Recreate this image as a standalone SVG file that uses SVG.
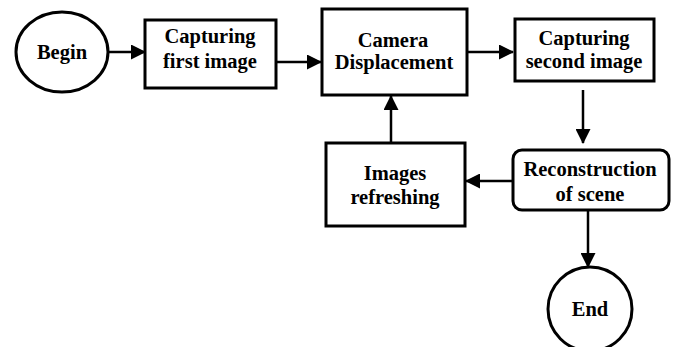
<svg xmlns="http://www.w3.org/2000/svg" width="675" height="347" viewBox="0 0 675 347">
<style>
.box{fill:#fff;stroke:#000;stroke-width:3}
.t{font-family:"Liberation Serif","Times New Roman",serif;font-weight:bold;font-size:20.5px;text-anchor:middle;fill:#000}
.c{stroke:#000;stroke-width:2.5;fill:none}
</style>
<defs>
<marker id="ah" markerUnits="userSpaceOnUse" markerWidth="15" markerHeight="15" viewBox="0 0 15 15" refX="14" refY="7.5" orient="auto">
<path d="M0,0 L15,7.5 L0,15 Z" fill="#000"/>
</marker>
</defs>
<rect width="675" height="347" fill="#fff"/>
<g id="connectors">
<line class="c" x1="108" y1="52" x2="145" y2="52" marker-end="url(#ah)"/>
<line class="c" x1="277" y1="62" x2="321" y2="62" marker-end="url(#ah)"/>
<line class="c" x1="467" y1="52" x2="513" y2="52" marker-end="url(#ah)"/>
<line class="c" x1="583" y1="90" x2="583" y2="143" marker-end="url(#ah)"/>
<line class="c" x1="513" y1="181" x2="466" y2="181" marker-end="url(#ah)"/>
<line class="c" x1="391" y1="143" x2="391" y2="96" marker-end="url(#ah)"/>
<line class="c" x1="588" y1="211" x2="588" y2="267" marker-end="url(#ah)"/>
</g>
<g id="begin">
<ellipse class="box" cx="62" cy="52" rx="46" ry="40"/>
<text class="t" x="62" y="59">Begin</text>
</g>
<g id="capture1">
<rect class="box" x="145" y="20" width="131" height="68"/>
<text class="t" x="210" y="43">Capturing</text>
<text class="t" x="210" y="68">first image</text>
</g>
<g id="camera">
<rect class="box" x="322" y="9" width="145" height="86"/>
<text class="t" x="393" y="47">Camera</text>
<text class="t" x="394" y="69">Displacement</text>
</g>
<g id="capture2">
<rect class="box" x="515" y="19" width="139" height="62"/>
<text class="t" x="584" y="45">Capturing</text>
<text class="t" x="584" y="68">second image</text>
</g>
<g id="reconstruction">
<rect class="box" x="513" y="150" width="156" height="60" rx="9"/>
<text class="t" x="590" y="176">Reconstruction</text>
<text class="t" x="590" y="201">of scene</text>
</g>
<g id="refresh">
<rect class="box" x="326" y="143" width="139" height="83"/>
<text class="t" x="395" y="180">Images</text>
<text class="t" x="395" y="204">refreshing</text>
</g>
<g id="end">
<circle class="box" cx="590" cy="309" r="42"/>
<text class="t" x="590" y="316">End</text>
</g>
</svg>
